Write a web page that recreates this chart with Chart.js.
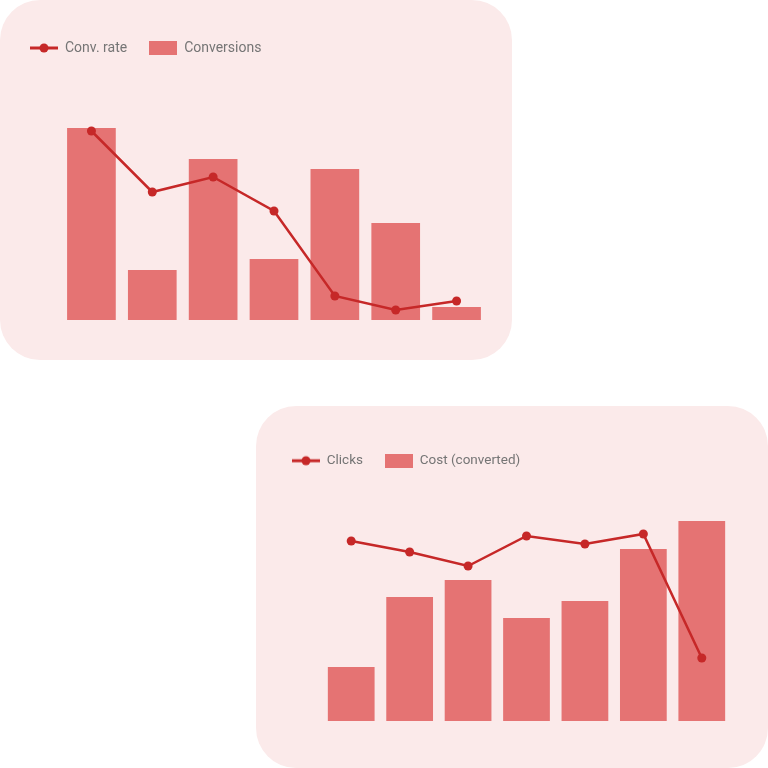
<!DOCTYPE html>
<html>
<head>
<meta charset="utf-8">
<script src="https://cdn.jsdelivr.net/npm/chart.js@4"></script>
<style>
  html, body { margin: 0; padding: 0; background: #fff; }
  body { width: 768px; height: 768px; position: relative; overflow: hidden; }
  .panel { position: absolute; background: #fbeaea; border-radius: 40px; overflow: hidden; }
  #p1 { left: 0; top: 0; width: 512px; height: 360px; }
  #p2 { left: 256px; top: 406px; width: 512px; height: 362px; }
  .panel canvas { display: block; }
</style>
</head>
<body>
<div class="panel" id="p1"><canvas id="c1" width="512" height="360"></canvas></div>
<div class="panel" id="p2"><canvas id="c2" width="512" height="362"></canvas></div>
<script>
const categories = ['1', '2', '3', '4', '5', '6', '7'];

// top panel
const conversions = [96, 25, 80.5, 30.5, 75.5, 48.5, 6.5];
const convRate = [9.45, 6.4, 7.15, 5.45, 1.2, 0.5, 0.95];

// bottom panel
const cost = [270, 620, 705, 515, 600, 860, 1000];
const clicks = [1800, 1690, 1550, 1850, 1770, 1870, 630];

const BAR = '#e57373';
const LINE = '#c62828';
const TEXT = '#757575';

function lineIcon() {
  const c = document.createElement('canvas');
  c.width = 28; c.height = 14;
  const g = c.getContext('2d');
  g.strokeStyle = LINE; g.lineWidth = 3;
  g.beginPath(); g.moveTo(0, 7); g.lineTo(28, 7); g.stroke();
  g.fillStyle = LINE;
  g.beginPath(); g.arc(14, 7, 4.5, 0, Math.PI * 2); g.fill();
  return c;
}

function boxIcon() {
  const c = document.createElement('canvas');
  c.width = 28; c.height = 14;
  const g = c.getContext('2d');
  g.fillStyle = BAR;
  g.fillRect(0, 0, 28, 14);
  return c;
}

const icons = [lineIcon(), boxIcon()];

// fixes the legend height so the plot area starts where it should
function legendHeight(h) {
  return {
    id: 'legendHeight',
    beforeLayout(chart) {
      const lg = chart.legend;
      if (!lg || lg._fixed) return;
      const fit = lg.fit;
      lg.fit = function () { fit.call(this); this.height = h; };
      lg._fixed = true;
    }
  };
}

function makeChart(id, o) {
  return new Chart(document.getElementById(id), {
    type: 'bar',
    data: {
      labels: categories,
      datasets: [
        {
          type: 'line',
          label: o.lineLabel,
          data: o.lineData,
          yAxisID: 'y1',
          borderColor: LINE,
          backgroundColor: LINE,
          borderWidth: 2.5,
          pointRadius: 4.5,
          pointBackgroundColor: LINE,
          pointBorderWidth: 0,
          tension: 0,
          order: 0
        },
        {
          label: o.barLabel,
          data: o.barData,
          yAxisID: 'y',
          backgroundColor: BAR,
          categoryPercentage: 1,
          barPercentage: 0.8,
          order: 1
        }
      ]
    },
    options: {
      responsive: false,
      animation: false,
      layout: { padding: o.padding },
      plugins: {
        tooltip: { enabled: false },
        legend: {
          align: 'start',
          labels: {
            usePointStyle: true,
            pointStyleWidth: 28,
            boxHeight: 14,
            padding: 22,
            color: TEXT,
            font: { family: 'Roboto', size: o.fontSize },
            generateLabels(chart) {
              return chart.data.datasets.map((ds, i) => ({
                text: ds.label,
                datasetIndex: i,
                pointStyle: icons[i],
                fontColor: TEXT,
                lineWidth: 0,
                hidden: false
              }));
            }
          }
        }
      },
      scales: {
        x: { display: false, offset: true },
        y: {
          min: 0, max: o.yMax,
          ticks: { display: false },
          grid: { display: false },
          border: { display: false },
          afterFit(s) { s.width = o.axisWidth; }
        },
        y1: { display: false, position: 'right', min: 0, max: o.y1Max }
      }
    },
    plugins: [legendHeight(o.legendH)]
  });
}

makeChart('c1', {
  lineLabel: 'Conv. rate', lineData: convRate, y1Max: 10,
  barLabel: 'Conversions', barData: conversions, yMax: 100,
  padding: { top: 19, left: 8, right: 25, bottom: 40 },
  legendH: 101, axisWidth: 53, fontSize: 14
});

makeChart('c2', {
  lineLabel: 'Clicks', lineData: clicks, y1Max: 2200,
  barLabel: 'Cost (converted)', barData: cost, yMax: 1100,
  padding: { top: 26, left: 14, right: 37, bottom: 47 },
  legendH: 69, axisWidth: 52, fontSize: 13.5
});
</script>
</body>
</html>
